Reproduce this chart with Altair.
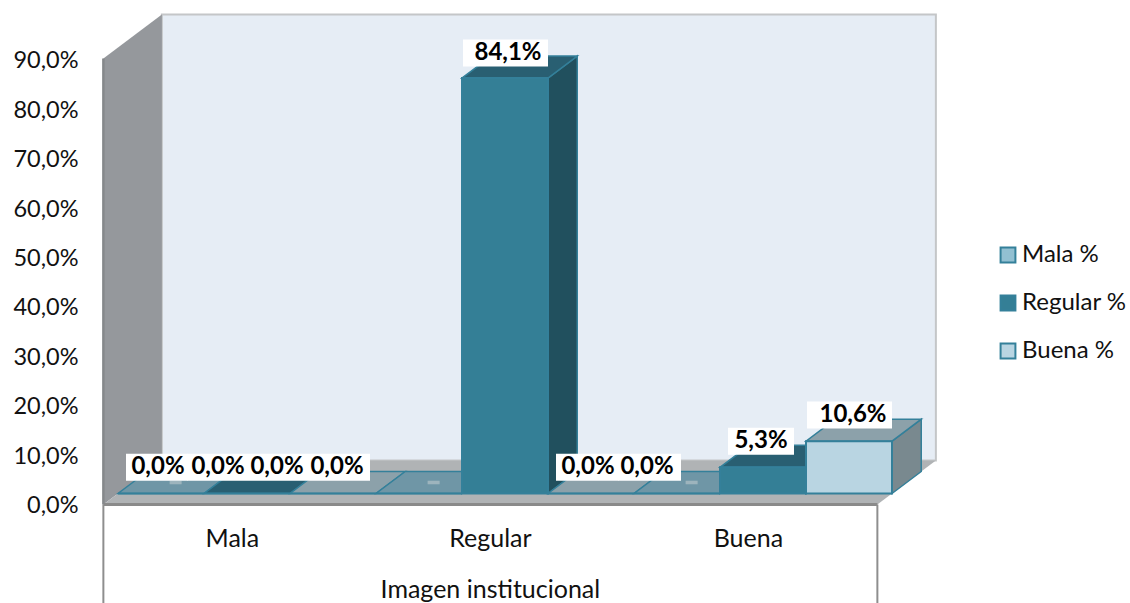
import altair as alt
import pandas as pd

# Values shown in the chart
CATEGORIES = ["Mala", "Regular", "Buena"]
SERIES = ["Mala %", "Regular %", "Buena %"]
MALA_VALUES = [0.0, 0.0, 0.0]
REGULAR_VALUES = [0.0, 84.1, 5.3]
BUENA_VALUES = [0.0, 0.0, 10.6]
Y_TICKS = [0, 10, 20, 30, 40, 50, 60, 70, 80, 90]
AXIS_TITLE = "Imagen institucional"

# Scale layout: one x unit is one bar slot, one y unit is one percentage point
SLOT_PX = 86.0
PCT_PX = 4.94
PLOT_LEFT = 85
PLOT_W, PLOT_H = 1045, 603
ZERO_PX = 504.5
SLOT0_PX = 118
DEPTH_X = 58.5 / SLOT_PX
DEPTH_Y = 44 / PCT_PX
BAR_BASE = DEPTH_Y / 4
WALL_TOP = 90.3
FLOOR_L = -DEPTH_X / 4
FLOOR_R = 9 - DEPTH_X / 4

x_scale = alt.Scale(domain=[(PLOT_LEFT - SLOT0_PX) / SLOT_PX,
                            (PLOT_LEFT + PLOT_W - SLOT0_PX) / SLOT_PX], nice=False, zero=False)
y_scale = alt.Scale(domain=[(ZERO_PX - PLOT_H) / PCT_PX, ZERO_PX / PCT_PX], nice=False, zero=False)

TEAL = "#34809a"
FRONT = dict(zip(SERIES, ["#92c0d2", "#347f96", "#b9d5e2"]))
TOP = dict(zip(SERIES, ["#6f96a6", "#295f72", "#8ca1aa"]))
SIDE = dict(zip(SERIES, ["#64828e", "#21505e", "#79898f"]))

FONT = "Lato"
FS = 25
FS_BOLD = 24

y_axis = alt.Axis(values=Y_TICKS, grid=False, domain=False, ticks=False, labelPadding=7, title=None,
                  labelFont=FONT, labelFontSize=23.5, labelColor="#111111", labelOffset=1,
                  labelExpr="replace(format(datum.value,'.1f'),'.',',')+'%'")


def X(field="x", **kw):
    return alt.X(f"{field}:Q", scale=x_scale, axis=None, **kw)


def Y(field="y", **kw):
    return alt.Y(f"{field}:Q", scale=y_scale, axis=y_axis, **kw)


# One record per bar, in drawing order
bars = []
for c, cat in enumerate(CATEGORIES):
    for s, (name, vals) in enumerate(zip(SERIES, [MALA_VALUES, REGULAR_VALUES, BUENA_VALUES])):
        bars.append({"id": c * 3 + s, "category": cat, "series": name, "value": vals[c]})

fronts, sides, tops, sheens = [], [], [], []
for b in bars:
    l, r = b["id"], b["id"] + 1
    lo, hi = BAR_BASE, BAR_BASE + b["value"]
    dx, dy = DEPTH_X / 2, DEPTH_Y / 2
    fronts.append({"x": l, "x2": r, "y": lo, "y2": hi, "series": b["series"]})
    for t in (0, 1):
        sides.append({"id": b["id"], "x": r + t * dx, "y": lo + t * dy, "y2": hi + t * dy,
                      "fill": SIDE[b["series"]]})
        tops.append({"id": b["id"], "y": hi + t * dy, "x": l + t * dx, "x2": r + t * dx,
                     "fill": TOP[b["series"]]})
    if b["series"] == "Mala %" and b["value"] == 0:
        mid = l + 0.5 + dx / 2
        sheens.append({"x": mid - 0.07, "x2": mid + 0.07, "y": hi + dy * 0.42, "y2": hi + dy * 0.58})

# Label placement per bar: text centre, white box edges (pixels along x) and lift above the bar
LABEL_BOXES = {0: (158, 126, 187.5, 5.3), 1: (218, 187, 248, 5.3), 2: (277, 248, 309, 5.3),
               3: (337, 309, 370, 5.3), 4: (508, 463, 548, 5.05), 5: (588, 556, 618.5, 5.3),
               6: (647, 618, 681, 5.3), 7: (761, 728, 794, 5.3), 8: (853, 807, 892, 5.3)}
BOX_HALF = 13.5 / PCT_PX


def to_slot(px):
    return (px - SLOT0_PX) / SLOT_PX


labels = []
for b in bars:
    cx, bl, br, lift = LABEL_BOXES[b["id"]]
    yc = BAR_BASE + b["value"] + lift
    labels.append({"x": to_slot(cx), "bl": to_slot(bl), "br": to_slot(br), "y": yc,
                   "y1": yc - BOX_HALF, "y2": yc + BOX_HALF, "value": b["value"],
                   "text": f'{b["value"]:.1f}'.replace(".", ",") + "%"})

wall_back = pd.DataFrame([{"x": FLOOR_L + DEPTH_X, "x2": FLOOR_R + DEPTH_X,
                           "y": DEPTH_Y, "y2": WALL_TOP + DEPTH_Y}])
wall_left = pd.DataFrame([{"x": FLOOR_L, "y": 0, "y2": WALL_TOP},
                          {"x": FLOOR_L + DEPTH_X, "y": DEPTH_Y, "y2": WALL_TOP + DEPTH_Y}])
floor = pd.DataFrame([{"y": 0, "x": FLOOR_L, "x2": FLOOR_R},
                      {"y": DEPTH_Y, "x": FLOOR_L + DEPTH_X, "x2": FLOOR_R + DEPTH_X}])
ymin = y_scale.domain[0]
edges_v = pd.DataFrame([{"x": FLOOR_L, "y": ymin, "y2": 0}, {"x": FLOOR_R, "y": ymin, "y2": 0}])
cat_df = pd.DataFrame({"x": [3 * i + 1.5 - DEPTH_X / 4 for i in range(3)],
                       "y": [-6.9] * 3, "t": CATEGORIES})
title_df = pd.DataFrame({"x": [4.5 - DEPTH_X / 4], "y": [-17.4], "t": [AXIS_TITLE]})

back = alt.Chart(wall_back).mark_rect(fill="#e6edf5", stroke="#c4c6c8", strokeWidth=2).encode(
    x=X(), x2="x2:Q", y=Y(), y2="y2:Q")
left = alt.Chart(wall_left).mark_area(color="#95989c", opacity=1).encode(x=X(), y=Y(), y2="y2:Q")
left_edge = alt.Chart(pd.DataFrame([{"x": FLOOR_L, "y": 0, "y2": WALL_TOP}])).mark_rule(
    color="#85888b", strokeWidth=2.5).encode(x=X(), y=Y(), y2="y2:Q")
floor_face = alt.Chart(floor).mark_area(orient="horizontal", color="#b0b3b5", opacity=1).encode(
    y=Y(), x=X(), x2="x2:Q")
floor_edge = alt.Chart(pd.DataFrame([{"x": FLOOR_L, "x2": FLOOR_R, "y": 0}])).mark_rule(
    color="#8a8a8a", strokeWidth=3).encode(x=X(), x2="x2:Q", y=Y())
dividers = alt.Chart(edges_v).mark_rule(color="#8e8e8e", strokeWidth=2).encode(x=X(), y=Y(), y2="y2:Q")

side_faces = alt.Chart(pd.DataFrame(sides)).mark_area(stroke=TEAL, strokeWidth=1.5, opacity=1).encode(
    x=X(), y=Y(), y2="y2:Q", detail="id:N", color=alt.Color("fill:N", scale=None))
top_faces = alt.Chart(pd.DataFrame(tops)).mark_area(
    orient="horizontal", stroke=TEAL, strokeWidth=1.5, opacity=1).encode(
    y=Y(), x=X(), x2="x2:Q", detail="id:N", color=alt.Color("fill:N", scale=None))
sheen = alt.Chart(pd.DataFrame(sheens)).mark_rect(fill="#9db4bd").encode(
    x=X(), x2="x2:Q", y=Y(), y2="y2:Q")
front_faces = alt.Chart(pd.DataFrame(fronts)).mark_rect(stroke=TEAL, strokeWidth=2).encode(
    x=X(), x2="x2:Q", y=Y(), y2="y2:Q",
    color=alt.Color("series:N",
                    scale=alt.Scale(domain=SERIES, range=[FRONT[s] for s in SERIES]),
                    legend=alt.Legend(title=None, orient="none", legendX=911, legendY=243,
                                      symbolType="square", symbolSize=220,
                                      symbolStrokeColor=TEAL, symbolStrokeWidth=2,
                                      symbolOpacity=1, labelFont=FONT, labelFontSize=24,
                                      labelColor="#111111", labelOffset=2, rowPadding=24,
                                      labelLimit=200)))

label_df = pd.DataFrame(labels)
boxes = alt.Chart(label_df).mark_rect(fill="white").encode(
    x=X("bl"), x2="br:Q", y=Y("y1"), y2="y2:Q")
texts = alt.Chart(label_df).mark_text(font=FONT, fontSize=FS_BOLD, fontWeight="bold", color="black",
                                      baseline="middle").encode(x=X(), y=Y(), text="text:N")
cat_text = alt.Chart(cat_df).mark_text(font=FONT, fontSize=FS, color="#111111", baseline="middle").encode(
    x=X(), y=Y(), text="t:N")
title_text = alt.Chart(title_df).mark_text(font=FONT, fontSize=FS, color="#111111", baseline="middle").encode(
    x=X(), y=Y(), text="t:N")

chart = alt.layer(back, left, floor_face, floor_edge, left_edge, dividers,
                  side_faces, top_faces, sheen, front_faces,
                  boxes, texts, cat_text, title_text).resolve_scale(color="independent").properties(
    width=PLOT_W, height=PLOT_H, autosize="none",
    padding={"left": PLOT_LEFT, "top": 0, "right": 0, "bottom": 0},
    background="white").configure_view(stroke=None)

chart.save("out.html", embed_options={"renderer": "svg", "actions": False})
